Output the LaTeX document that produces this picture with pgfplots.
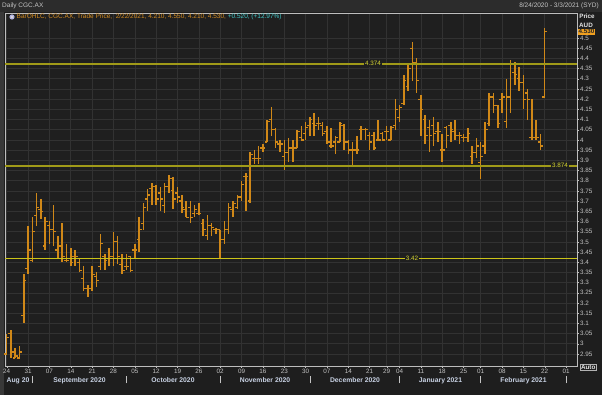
\documentclass[border=0pt]{standalone}
\usepackage{pgfplots}
\pgfplotsset{compat=1.18}
\usepackage{pgfplotstable}
\usepackage{fontspec}
\setmainfont{Liberation Sans}
\setsansfont{Liberation Sans}
\definecolor{bgout}{HTML}{1E1E1E}
\definecolor{bgplot}{HTML}{1F1F1F}
\definecolor{hdr}{HTML}{2C2C2C}
\definecolor{lstrip}{HTML}{383838}
\definecolor{gridc}{HTML}{323232}
\definecolor{barc}{HTML}{D08818}
\definecolor{lvl}{HTML}{A09A18}
\definecolor{lvl2}{HTML}{CCC418}
\definecolor{lbltxt}{HTML}{D8D830}
\definecolor{txt}{HTML}{C4C4C4}
\definecolor{monc}{HTML}{C8D2E4}
\definecolor{legor}{HTML}{D48C20}
\definecolor{legcy}{HTML}{40C8C8}
\definecolor{pricebox}{HTML}{F0A020}
\pgfplotstableread{
i o h l c
0 2.95 3.05 2.95 3.03
1 3.05 3.07 2.93 2.96
2 2.93 2.98 2.93 2.94
3 2.93 2.99 2.93 2.96
4 3.14 3.34 3.10 3.31
5 3.37 3.58 3.34 3.46
6 3.41 3.62 3.40 3.55
7 3.63 3.74 3.58 3.67
8 3.66 3.71 3.61 3.65
9 3.48 3.62 3.46 3.60
10 3.58 3.60 3.49 3.56
11 3.56 3.68 3.48 3.55
12 3.46 3.53 3.42 3.48
13 3.48 3.59 3.40 3.43
14 3.41 3.49 3.40 3.41
15 3.42 3.47 3.38 3.40
16 3.43 3.46 3.38 3.43
17 3.40 3.42 3.35 3.36
18 3.32 3.38 3.26 3.27
19 3.27 3.29 3.23 3.27
20 3.27 3.38 3.26 3.34
21 3.33 3.35 3.28 3.31
22 3.38 3.54 3.36 3.49
23 3.43 3.44 3.36 3.41
24 3.42 3.47 3.38 3.43
25 3.43 3.55 3.38 3.50
26 3.50 3.53 3.39 3.43
27 3.39 3.44 3.34 3.36
28 3.38 3.44 3.36 3.38
29 3.43 3.43 3.35 3.36
30 3.46 3.49 3.42 3.46
31 3.51 3.62 3.45 3.56
32 3.59 3.69 3.56 3.67
33 3.71 3.76 3.65 3.73
34 3.76 3.79 3.68 3.77
35 3.77 3.78 3.68 3.71
36 3.74 3.77 3.65 3.71
37 3.68 3.79 3.64 3.77
38 3.77 3.83 3.74 3.81
39 3.75 3.82 3.66 3.71
40 3.74 3.77 3.69 3.72
41 3.70 3.73 3.64 3.67
42 3.66 3.70 3.62 3.62
43 3.67 3.70 3.59 3.62
44 3.64 3.68 3.62 3.66
45 3.64 3.69 3.63 3.64
46 3.59 3.61 3.53 3.56
47 3.53 3.63 3.51 3.58
48 3.58 3.59 3.53 3.57
49 3.56 3.57 3.54 3.56
50 3.56 3.56 3.42 3.51
51 3.51 3.60 3.49 3.56
52 3.56 3.69 3.54 3.67
53 3.66 3.70 3.62 3.69
54 3.67 3.73 3.66 3.72
55 3.72 3.80 3.70 3.78
56 3.82 3.84 3.65 3.82
57 3.70 3.94 3.69 3.93
58 3.91 3.95 3.88 3.91
59 3.91 3.97 3.88 3.91
60 3.96 3.98 3.94 3.96
61 3.99 4.10 3.99 4.09
62 4.10 4.16 4.02 4.05
63 4.05 4.06 3.96 3.99
64 3.98 4.00 3.94 3.98
65 3.92 4.00 3.85 3.94
66 3.94 4.01 3.89 3.96
67 3.96 4.00 3.89 3.96
68 3.96 4.05 3.96 4.04
69 4.01 4.07 4.00 4.00
70 4.03 4.09 4.00 4.06
71 4.07 4.11 4.02 4.10
72 4.08 4.13 4.02 4.07
73 4.08 4.11 4.05 4.08
74 4.07 4.09 4.02 4.03
75 4.04 4.07 3.98 3.99
76 3.97 4.06 3.96 3.97
77 3.99 4.02 3.93 4.01
78 3.99 4.09 3.99 4.08
79 4.07 4.08 3.95 3.99
80 3.99 4.00 3.93 3.95
81 3.95 3.99 3.87 3.95
82 3.95 4.02 3.93 3.95
83 4.05 4.07 4.00 4.05
84 4.05 4.06 4.00 4.05
85 4.02 4.04 3.95 3.99
86 4.02 4.04 3.95 3.96
87 4.00 4.10 4.00 4.00
88 4.03 4.04 4.00 4.00
89 4.04 4.07 4.00 4.04
90 4.00 4.07 4.00 4.06
91 4.07 4.20 4.05 4.15
92 4.11 4.17 4.09 4.16
93 4.18 4.32 4.17 4.29
94 4.26 4.37 4.24 4.35
95 4.45 4.48 4.29 4.38
96 4.38 4.40 4.23 4.29
97 4.20 4.22 4.02 4.15
98 4.10 4.12 3.98 4.02
99 4.06 4.10 3.94 4.02
100 4.07 4.11 3.97 4.03
101 4.04 4.09 3.99 4.04
102 3.95 4.03 3.89 3.95
103 4.06 4.07 3.96 4.02
104 4.07 4.09 3.99 4.05
105 4.04 4.10 4.00 4.02
106 4.02 4.04 3.98 4.02
107 4.01 4.03 3.99 4.01
108 4.01 4.06 3.99 4.03
109 3.92 3.97 3.88 3.94
110 3.94 4.01 3.91 3.97
111 3.89 3.99 3.81 3.92
112 3.97 4.09 3.93 4.05
113 4.08 4.23 4.07 4.21
114 4.21 4.23 4.13 4.17
115 4.17 4.17 4.06 4.08
116 4.20 4.23 4.13 4.21
117 4.09 4.30 4.06 4.21
118 4.21 4.39 4.13 4.37
119 4.33 4.38 4.27 4.32
120 4.30 4.36 4.24 4.28
121 4.28 4.32 4.15 4.20
122 4.23 4.25 4.10 4.20
123 4.01 4.20 4.00 4.01
124 4.01 4.10 4.00 4.01
125 3.99 4.03 3.95 3.97
126 4.21 4.55 4.21 4.53
}\ohlc
\begin{document}
\begin{tikzpicture}[x=1pt,y=1pt]
\useasboundingbox (0,0) rectangle (602,395);
\fill[bgout] (0,0) rectangle (602,395);
\fill[hdr] (0,383) rectangle (602,395);
\fill[lstrip] (0,0) rectangle (4,383);
\node[anchor=west, inner sep=0pt, text=txt, font=\fontsize{6.5}{7}\selectfont] at (2,389) {Daily CGC.AX};
\node[anchor=east, inner sep=0pt, text=txt, font=\fontsize{6.5}{7}\selectfont] at (599,389) {8/24/2020 - 3/3/2021 (SYD)};
\begin{axis}[
  at={(5pt,29pt)}, anchor=south west,
  scale only axis, width=572pt, height=353pt,
  xmin=-0.4, xmax=133.56, ymin=2.891, ymax=4.6225,
  axis background/.style={fill=bgplot},
  axis line style={draw=black!65!white!40},
  grid=major, grid style={gridc, line width=0.6pt},
  xtick={0,5,10,15,20,25,30,35,40,45,50,55,60,65,70,75,80,85,89,92,97,102,107,111,116,121,126,131},
  xticklabels={24,31,07,14,21,28,05,12,19,26,02,09,16,23,30,07,14,21,29,04,11,18,25,01,08,15,22,01},
  ytick={2.95,3,3.05,3.1,3.15,3.2,3.25,3.3,3.35,3.4,3.45,3.5,3.55,3.6,3.65,3.7,3.75,3.8,3.85,3.9,3.95,4,4.05,4.1,4.15,4.2,4.25,4.3,4.35,4.4,4.45,4.5},
  xtick pos=left, ytick pos=right, yticklabel pos=right,
  tick align=outside, major tick length=2pt,
  tick style={draw=txt, line width=0.4pt},
  ticklabel style={font=\fontsize{6.3}{7}\selectfont, text=txt},
  xticklabel style={inner sep=1pt},
  yticklabel style={anchor=west, inner sep=1pt, /pgf/number format/fixed},
  /pgf/number format/assume math mode=true,
  clip=false,
]
\addplot[draw=none, mark=none, forget plot,
  error bars/.cd, y dir=both, y explicit, error mark=none,
  error bar style={draw=barc, line width=1.5pt}]
  table[x=i, y expr={(\thisrow{h}+\thisrow{l})/2}, y error expr={(\thisrow{h}-\thisrow{l})/2}] {\ohlc};
\addplot[draw=none, mark=none, forget plot,
  error bars/.cd, x dir=minus, x explicit, error mark=none,
  error bar style={draw=barc, line width=1.2pt}]
  table[x=i, y=o, x error expr=0.6] {\ohlc};
\addplot[draw=none, mark=none, forget plot,
  error bars/.cd, x dir=plus, x explicit, error mark=none,
  error bar style={draw=barc, line width=1.2pt}]
  table[x=i, y=c, x error expr=0.6] {\ohlc};
\addplot[draw=lvl, line width=2pt, mark=none, forget plot] coordinates {(-0.4,4.374) (133.56,4.374)};
\addplot[draw=lvl, line width=2pt, mark=none, forget plot] coordinates {(-0.4,3.874) (133.56,3.874)};
\addplot[draw=lvl2, line width=1.2pt, mark=none, forget plot] coordinates {(-0.4,3.42) (133.56,3.42)};
\node[fill=bgplot, text=lbltxt, inner sep=1pt, font=\fontsize{6.3}{7}\selectfont] at (axis cs:85.8,4.374) {4.374};
\node[fill=bgplot, text=lbltxt, inner sep=1pt, font=\fontsize{6.3}{7}\selectfont] at (axis cs:129.6,3.874) {3.874};
\node[fill=bgplot, text=lbltxt, inner sep=1pt, font=\fontsize{6.3}{7}\selectfont] at (axis cs:94.9,3.42) {3.42};
\end{axis}
% legend line
\fill[black!30!white!70!blue!60] (12,378) circle (2.6pt);
\fill[white!85!black] (12,378) circle (1.3pt);
\node[anchor=west, inner sep=0pt, font=\fontsize{6.5}{7}\selectfont] at (16.5,378)
 {\textcolor{legor}{BarOHLC, CGC.AX, Trade Price,\ \ 2/22/2021, 4.210, 4.550, 4.210, 4.530,} \textcolor{legcy}{+0.520, (+12.97\%)}};
% right labels
\node[text=white!90!black, font=\bfseries\fontsize{6.3}{7}\selectfont, inner sep=0pt] at (587,379) {Price};
\node[text=white!90!black, font=\bfseries\fontsize{6.3}{7}\selectfont, inner sep=0pt] at (586,370) {AUD};
\node[fill=pricebox, text=black!85, font=\bfseries\fontsize{6.3}{7}\selectfont, inner sep=0.8pt, anchor=west] at (577.5,363.2) {4.530};
\node[draw=white!70!black, text=white!90!black, font=\bfseries\fontsize{6.3}{7}\selectfont, inner sep=0.8pt, anchor=west] at (580,28) {Auto};
% month labels
\foreach \xx in {32.3,126.3,220.2,309.9,399.5,480.7,566}{\draw[txt, line width=0.5pt] (\xx,11.5) -- (\xx,19);}
\foreach \xx/\mm in {18/Aug 20,79.5/September 2020,173/October 2020,265/November 2020,355/December 2020,440.5/January 2021,523.5/February 2021}{
  \node[text=monc, font=\bfseries\fontsize{6.8}{7}\selectfont, inner sep=0pt] at (\xx,14.5) {\mm};}
\end{tikzpicture}
\end{document}
